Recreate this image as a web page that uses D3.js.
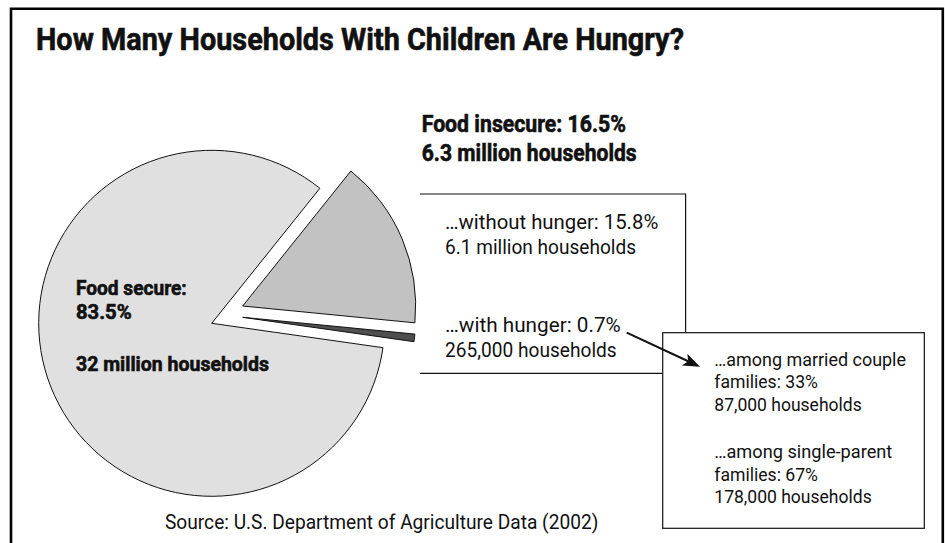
<!DOCTYPE html>
<html>
<head>
<meta charset="utf-8">
<script src="https://cdn.jsdelivr.net/npm/d3@7"></script>
<style>
  html, body { margin: 0; padding: 0; background: #fff; }
  svg { display: block; }
  text { font-family: Roboto, "Liberation Sans", sans-serif; fill: #111; }
  text.heavy { stroke: #111; stroke-width: 0.6px; }
</style>
</head>
<body>
<svg id="chart" width="945" height="543"></svg>
<script>
// Households with children, 2002
const categories = ["…without hunger", "…with hunger", "Food secure"];
const shares = [15.8, 0.7, 83.5];
const households = ["6.1 million", "265,000", "32 million"];
const insecureShare = 16.5;
const insecureHouseholds = "6.3 million";
// Breakdown of households with hunger
const hungerGroups = ["married couple", "single-parent"];
const hungerShares = [33, 67];
const hungerHouseholds = ["87,000", "178,000"];

const svg = d3.select("#chart");

// outer frame (open at the bottom edge of the page)
svg.append("path")
  .attr("d", "M11,560 L11,8.7 L942.8,8.7 L942.8,560")
  .attr("fill", "none").attr("stroke", "#000").attr("stroke-width", 2.6);

// one line of text pinned to a width (condensed look)
function line(x, y, str, size, weight, width) {
  const t = svg.append("text")
    .attr("x", x).attr("y", y)
    .attr("font-size", size)
    .attr("font-weight", weight)
    .classed("heavy", weight === "bold")
    .text(str);
  if (width) t.attr("textLength", width).attr("lengthAdjust", "spacingAndGlyphs");
  return t;
}

line(36, 50, "How Many Households With Children Are Hungry?", 30.5, "bold", 648);

// pie
const cx = 211.7, cy = 323.3, R = 173;
const startDeg = 38.7;
const pie = d3.pie().sort(null).value(d => d.value)
  .startAngle(startDeg * Math.PI / 180)
  .endAngle((startDeg + 360) * Math.PI / 180);
const arc = d3.arc().innerRadius(0).outerRadius(R);
const fills = ["#c2c2c2", "#4f4f4f", "#e0e0e0"];
const shifts = [[31, -17.3], [31, -6], [0, 0]];
const slices = pie(categories.map((c, i) => ({ name: c, value: shares[i] })));

svg.append("g")
  .selectAll("path")
  .data(slices)
  .join("path")
  .attr("transform", (d, i) => `translate(${cx + shifts[i][0]},${cy + shifts[i][1]})`)
  .attr("d", arc)
  .attr("fill", (d, i) => fills[i])
  .attr("stroke", "#111")
  .attr("stroke-width", 1)
  .attr("stroke-linejoin", "miter");

// food secure label inside the large slice
line(76, 295, `${categories[2]}:`, 20, "bold", 110.7);
line(76, 319.3, `${shares[2]}%`, 20, "bold", 55.7);
line(76, 371, `${households[2]} households`, 20, "bold", 193);

// food insecure heading
line(421.7, 131.7, `Food insecure: ${insecureShare}%`, 23.5, "bold", 204.3);
line(421.7, 161, `${insecureHouseholds} households`, 23.5, "bold", 215);

// bracket box around the insecure breakdown
svg.append("path")
  .attr("d", "M420,194 L685.6,194 L685.6,373.3 L420,373.3")
  .attr("fill", "none").attr("stroke", "#111").attr("stroke-width", 1.2);

line(445, 229.3, `${categories[0]}: ${shares[0]}%`, 21, "normal", 213.3);
line(445, 254, `${households[0]} households`, 21, "normal", 191);
line(445, 332.3, `${categories[1]}: ${shares[1]}%`, 21, "normal", 175.7);
line(445, 356.7, `${households[1]} households`, 21, "normal", 171.7);

// breakdown box of households with hunger
svg.append("rect")
  .attr("x", 662.7).attr("y", 332.7)
  .attr("width", 924.3 - 662.7).attr("height", 528.3 - 332.7)
  .attr("fill", "#fff").attr("stroke", "#111").attr("stroke-width", 1.2);

line(714.3, 366, `…among ${hungerGroups[0]}`, 19, "normal", 191.7);
line(714.3, 388.3, `families: ${hungerShares[0]}%`, 19, "normal", 103.7);
line(714.3, 411, `${hungerHouseholds[0]} households`, 19, "normal", 147.4);
line(714.3, 458.3, `…among ${hungerGroups[1]}`, 19, "normal", 178);
line(714.3, 480.7, `families: ${hungerShares[1]}%`, 19, "normal", 103.7);
line(714.3, 503.3, `${hungerHouseholds[1]} households`, 19, "normal", 157.4);

// arrow from the hunger line to the breakdown box
const x0 = 626.7, y0 = 332.7, x1 = 700, y1 = 366.7;
const ang = Math.atan2(y1 - y0, x1 - x0);
const headLen = 17, headHalf = 6.5, notch = 4;
const bx = x1 - headLen * Math.cos(ang), by = y1 - headLen * Math.sin(ang);
const mx = x1 - (headLen - notch) * Math.cos(ang), my = y1 - (headLen - notch) * Math.sin(ang);
svg.append("line")
  .attr("x1", x0).attr("y1", y0).attr("x2", mx).attr("y2", my)
  .attr("stroke", "#111").attr("stroke-width", 2);
const nx = -Math.sin(ang), ny = Math.cos(ang);
svg.append("path")
  .attr("d", d3.line()([
    [x1, y1],
    [bx + nx * headHalf, by + ny * headHalf],
    [mx, my],
    [bx - nx * headHalf, by - ny * headHalf]
  ]) + "Z")
  .attr("fill", "#111");

// source note
line(165, 529, "Source: U.S. Department of Agriculture Data (2002)", 20, "normal", 433.3);
</script>
</body>
</html>
